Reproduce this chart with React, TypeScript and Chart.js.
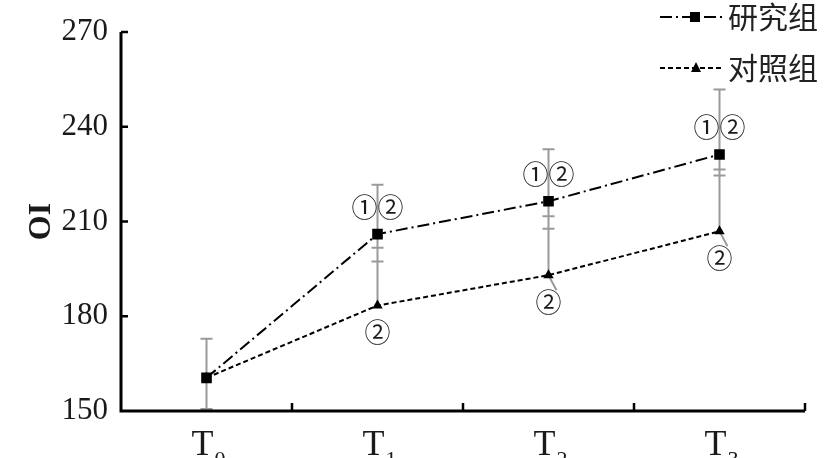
import React, { useEffect, useRef } from "react";
import { Chart, registerables } from "chart.js";

Chart.register(...registerables);

const categories = ["T0", "T1", "T2", "T3"];
const subscripts = ["0", "1", "2", "3"];
const studyValues = [160.5, 206.0, 216.4, 231.2];
const controlValues = [160.5, 183.4, 193.0, 206.9];
const studyErrHigh = [172.9, 221.6, 232.9, 251.8];
const studyErrLow = [150.6, 197.3, 207.7, 224.6];
const controlErrHigh = [172.9, 201.7, 211.7, 226.5];
const studyNotes = ["", "①②", "①②", "①②"];
const controlNotes = ["", "②", "②", "②"];
const controlLeader = [false, false, true, true];
const seriesNames = ["研究组", "对照组"];
const yAxisTitle = "OI";
const yMin = 150;
const yMax = 270;
const yStep = 30;

const SERIF = "'Liberation Serif', 'Times New Roman', serif";
const CJK = "'Noto Sans CJK SC', sans-serif";
const STUDY_DASH = [12, 4, 2, 4];
const CONTROL_DASH = [5, 3];

const drawPlugin = {
  id: "customDraw",
  beforeDatasetsDraw(chart: any) {
    const ctx = chart.ctx;
    const xs = chart.scales.x;
    const ys = chart.scales.y;
    ctx.save();
    ctx.strokeStyle = "#9a9a9a";
    ctx.lineWidth = 2;
    ctx.setLineDash([]);
    const cap = 6;
    for (let i = 0; i < categories.length; i++) {
      const x = xs.getPixelForValue(i);
      const yHi = ys.getPixelForValue(studyErrHigh[i]);
      const yLo = ys.getPixelForValue(studyErrLow[i]);
      const yC = ys.getPixelForValue(controlValues[i]);
      const yCHi = ys.getPixelForValue(controlErrHigh[i]);
      ctx.beginPath();
      ctx.moveTo(x, yHi);
      ctx.lineTo(x, Math.max(yLo, yC));
      ctx.moveTo(x - cap, yHi);
      ctx.lineTo(x + cap, yHi);
      ctx.moveTo(x - cap, yLo);
      ctx.lineTo(x + cap, yLo);
      ctx.moveTo(x - cap, yCHi);
      ctx.lineTo(x + cap, yCHi);
      ctx.stroke();
      if (controlLeader[i]) {
        ctx.beginPath();
        ctx.moveTo(x, yC);
        ctx.lineTo(x + 8, yC + 15);
        ctx.stroke();
      }
    }
    ctx.restore();
  },
  afterDraw(chart: any) {
    const ctx = chart.ctx;
    const xs = chart.scales.x;
    const ys = chart.scales.y;
    const { left, right, top, bottom } = chart.chartArea;
    ctx.save();
    // axes
    ctx.strokeStyle = "#000";
    ctx.lineWidth = 3;
    ctx.setLineDash([]);
    ctx.beginPath();
    ctx.moveTo(left, top);
    ctx.lineTo(left, bottom);
    ctx.lineTo(right, bottom);
    ctx.stroke();
    ctx.lineWidth = 2.5;
    ctx.beginPath();
    for (let v = yMin + yStep; v <= yMax; v += yStep) {
      const y = ys.getPixelForValue(v);
      ctx.moveTo(left, y);
      ctx.lineTo(left + 7, y);
    }
    const n = categories.length;
    for (let i = 1; i <= n; i++) {
      const x = left + ((right - left) * i) / n;
      ctx.moveTo(x, bottom);
      ctx.lineTo(x, bottom - 8);
    }
    ctx.stroke();

    // x labels with subscripts
    ctx.fillStyle = "#1a1a1a";
    for (let i = 0; i < n; i++) {
      const x = xs.getPixelForValue(i);
      ctx.font = `36px ${SERIF}`;
      ctx.textAlign = "right";
      ctx.textBaseline = "alphabetic";
      ctx.fillText(categories[i].charAt(0), x + 7, 455);
      ctx.font = `22px ${SERIF}`;
      ctx.textAlign = "left";
      ctx.fillText(subscripts[i], x + 8, 466);
    }

    // y title
    ctx.save();
    ctx.translate(42, (top + bottom) / 2);
    ctx.rotate(-Math.PI / 2);
    ctx.font = `bold 32px ${SERIF}`;
    ctx.textAlign = "center";
    ctx.textBaseline = "middle";
    ctx.fillText(yAxisTitle, 0, 0);
    ctx.restore();

    // annotations
    ctx.font = `26px ${CJK}`;
    ctx.textAlign = "center";
    ctx.textBaseline = "middle";
    ctx.fillStyle = "#1a1a1a";
    for (let i = 0; i < n; i++) {
      const x = xs.getPixelForValue(i);
      if (studyNotes[i]) {
        ctx.fillText(studyNotes[i], x, ys.getPixelForValue(studyValues[i]) - 27);
      }
      if (controlNotes[i]) {
        ctx.fillText(controlNotes[i], x, ys.getPixelForValue(controlValues[i]) + 27);
      }
    }

    // legend
    const lx0 = 660;
    const lx1 = 723;
    const rows = [17, 68];
    ctx.strokeStyle = "#000";
    ctx.lineWidth = 2;
    ctx.setLineDash(STUDY_DASH);
    ctx.beginPath();
    ctx.moveTo(lx0, rows[0]);
    ctx.lineTo(lx1, rows[0]);
    ctx.stroke();
    ctx.setLineDash(CONTROL_DASH);
    ctx.beginPath();
    ctx.moveTo(lx0, rows[1]);
    ctx.lineTo(lx1, rows[1]);
    ctx.stroke();
    ctx.setLineDash([]);
    ctx.fillStyle = "#000";
    ctx.fillRect(690, rows[0] - 5, 10, 10);
    ctx.beginPath();
    ctx.moveTo(696, rows[1] - 6);
    ctx.lineTo(701, rows[1] + 4);
    ctx.lineTo(691, rows[1] + 4);
    ctx.closePath();
    ctx.fill();
    ctx.fillStyle = "#222";
    ctx.font = `30px ${CJK}`;
    ctx.textAlign = "left";
    ctx.textBaseline = "middle";
    ctx.fillText(seriesNames[0], 728, rows[0]);
    ctx.fillText(seriesNames[1], 728, rows[1]);
    ctx.restore();
  },
};

export default function App() {
  const ref = useRef<HTMLCanvasElement | null>(null);
  useEffect(() => {
    if (!ref.current) return;
    const chart = new Chart(ref.current, {
      type: "line",
      data: {
        labels: categories,
        datasets: [
          {
            label: seriesNames[0],
            data: studyValues,
            borderColor: "#000",
            backgroundColor: "#000",
            borderWidth: 2,
            borderDash: STUDY_DASH,
            pointStyle: "rect",
            pointRadius: 7.5,
            pointBackgroundColor: "#000",
            pointBorderWidth: 0,
            tension: 0,
          },
          {
            label: seriesNames[1],
            data: controlValues,
            borderColor: "#000",
            backgroundColor: "#000",
            borderWidth: 2,
            borderDash: CONTROL_DASH,
            pointStyle: "triangle",
            pointRadius: 6,
            pointBackgroundColor: "#000",
            pointBorderWidth: 0,
            tension: 0,
          },
        ],
      },
      options: {
        animation: false,
        responsive: false,
        maintainAspectRatio: false,
        layout: { padding: { left: 0, top: 32, right: 25, bottom: 0 } },
        plugins: { legend: { display: false }, tooltip: { enabled: false } },
        scales: {
          x: {
            type: "category",
            offset: true,
            grid: { display: false, drawTicks: false },
            border: { display: false },
            ticks: { display: false },
            afterFit: (s: any) => {
              s.height = 47;
            },
          },
          y: {
            min: yMin,
            max: yMax,
            grid: { display: false, drawTicks: false },
            border: { display: false },
            ticks: {
              stepSize: yStep,
              padding: 13,
              color: "#1a1a1a",
              font: { family: SERIF, size: 31 },
            },
            afterFit: (s: any) => {
              s.width = 121;
            },
          },
        },
      },
      plugins: [drawPlugin],
    });
    return () => chart.destroy();
  }, []);
  return (
    <div style={{ position: "fixed", left: 0, top: 0, width: 830, height: 458, background: "#fff" }}>
      <canvas ref={ref} width={830} height={458} style={{ width: 830, height: 458 }} />
    </div>
  );
}
